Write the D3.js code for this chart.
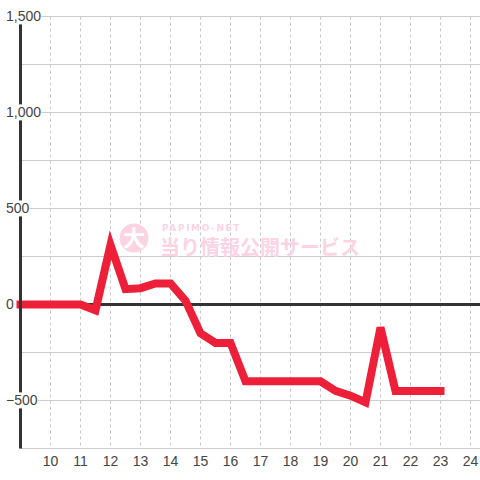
<!DOCTYPE html>
<html><head><meta charset="utf-8">
<script src="https://cdn.jsdelivr.net/npm/d3@7"></script>
<style>html,body{margin:0;padding:0;background:#fff;}svg{display:block;}</style>
</head><body>
<svg id="c" width="480" height="480"></svg>
<script>
const hours = [9, 9.5, 10, 10.5, 11, 11.5, 12, 12.5, 13, 13.5, 14, 14.5, 15, 15.5, 16, 16.5, 17, 17.5, 18, 18.5, 19, 19.5, 20, 20.5, 21, 21.5, 22, 22.5, 23];
const values = [0, 0, 0, 0, 0, -30, 310, 80, 85, 110, 110, 20, -150, -200, -200, -400, -400, -400, -400, -400, -400, -450, -475, -510, -120, -450, -450, -450, -450];
const xTicks = [10, 11, 12, 13, 14, 15, 16, 17, 18, 19, 20, 21, 22, 23, 24];
const yTicks = [1500, 1000, 500, 0, -500];
const yGrid = [1500, 1250, 1000, 750, 500, 250, 0, -250, -500, -750];

const svg = d3.select("#c");
const x = d3.scaleLinear().domain([9, 24.3]).range([20.5, 479.5]);
const y = d3.scaleLinear().domain([-750, 1500]).range([448.5, 16.5]);

// vertical dashed grid
svg.append("g").selectAll("line").data(xTicks).join("line")
  .attr("x1", d => x(d)).attr("x2", d => x(d))
  .attr("y1", y(1500)).attr("y2", y(-750))
  .attr("stroke", "#c8c8c8").attr("stroke-width", 1).attr("stroke-dasharray", "3,3");
// horizontal grid
svg.append("g").selectAll("line").data(yGrid).join("line")
  .attr("x1", 20).attr("x2", 480)
  .attr("y1", d => y(d)).attr("y2", d => y(d))
  .attr("stroke", "#cccccc").attr("stroke-width", 1);

// watermark
const wm = svg.append("g").attr("opacity", 1);
wm.append("circle").attr("cx", 134).attr("cy", 238).attr("r", 14.5).attr("fill", "#fcd3e3");
wm.append("text").attr("x", 134).attr("y", 246).attr("text-anchor", "middle")
  .attr("font-family", "Noto Sans CJK JP").attr("font-weight", "bold").attr("font-size", 22)
  .attr("fill", "#ffffff").text("大");
wm.append("text").attr("x", 162).attr("y", 231)
  .attr("font-family", "DejaVu Sans, Liberation Sans").attr("font-weight", "bold").attr("font-size", 9)
  .attr("letter-spacing", 1.6).attr("fill", "#fcd3e3").text("PAPIMO-NET");
wm.append("text").attr("x", 160).attr("y", 255)
  .attr("font-family", "Noto Sans CJK JP").attr("font-weight", "bold").attr("font-size", 20)
  .attr("fill", "#fcd3e3").text("当り情報公開サービス");

// zero line
svg.append("line").attr("x1", 20).attr("x2", 480).attr("y1", y(0)).attr("y2", y(0))
  .attr("stroke", "#333333").attr("stroke-width", 3);

// data line
const line = d3.line().x((d, i) => x(hours[i])).y(d => y(d));
svg.append("path").datum(values).attr("d", line)
  .attr("fill", "none").attr("stroke", "#ed1f39").attr("stroke-width", 8)
  .attr("stroke-linejoin", "miter").attr("stroke-linecap", "square");

// left axis line
svg.append("line").attr("x1", 20.5).attr("x2", 20.5).attr("y1", y(1500)).attr("y2", y(-750))
  .attr("stroke", "#333333").attr("stroke-width", 3);

// y labels with white background
const yl = svg.append("g").selectAll("g").data(yTicks).join("g");
yl.append("text").attr("x", 6).attr("y", d => y(d)).attr("dy", "0.35em")
  .attr("font-family", "Liberation Sans, Arial").attr("font-size", 14).attr("fill", "#444")
  .text(d => d3.format(",")(d))
  .each(function () {
    const b = this.getBBox();
    d3.select(this.parentNode).insert("rect", "text")
      .attr("x", b.x).attr("y", b.y).attr("width", b.width).attr("height", b.height)
      .attr("fill", "#ffffff");
  });

// x labels
svg.append("g").selectAll("text").data(xTicks).join("text")
  .attr("x", d => x(d)).attr("y", 466).attr("text-anchor", "middle")
  .attr("font-family", "Liberation Sans, Arial").attr("font-size", 14).attr("fill", "#444")
  .text(d => d);
</script>
</body></html>
